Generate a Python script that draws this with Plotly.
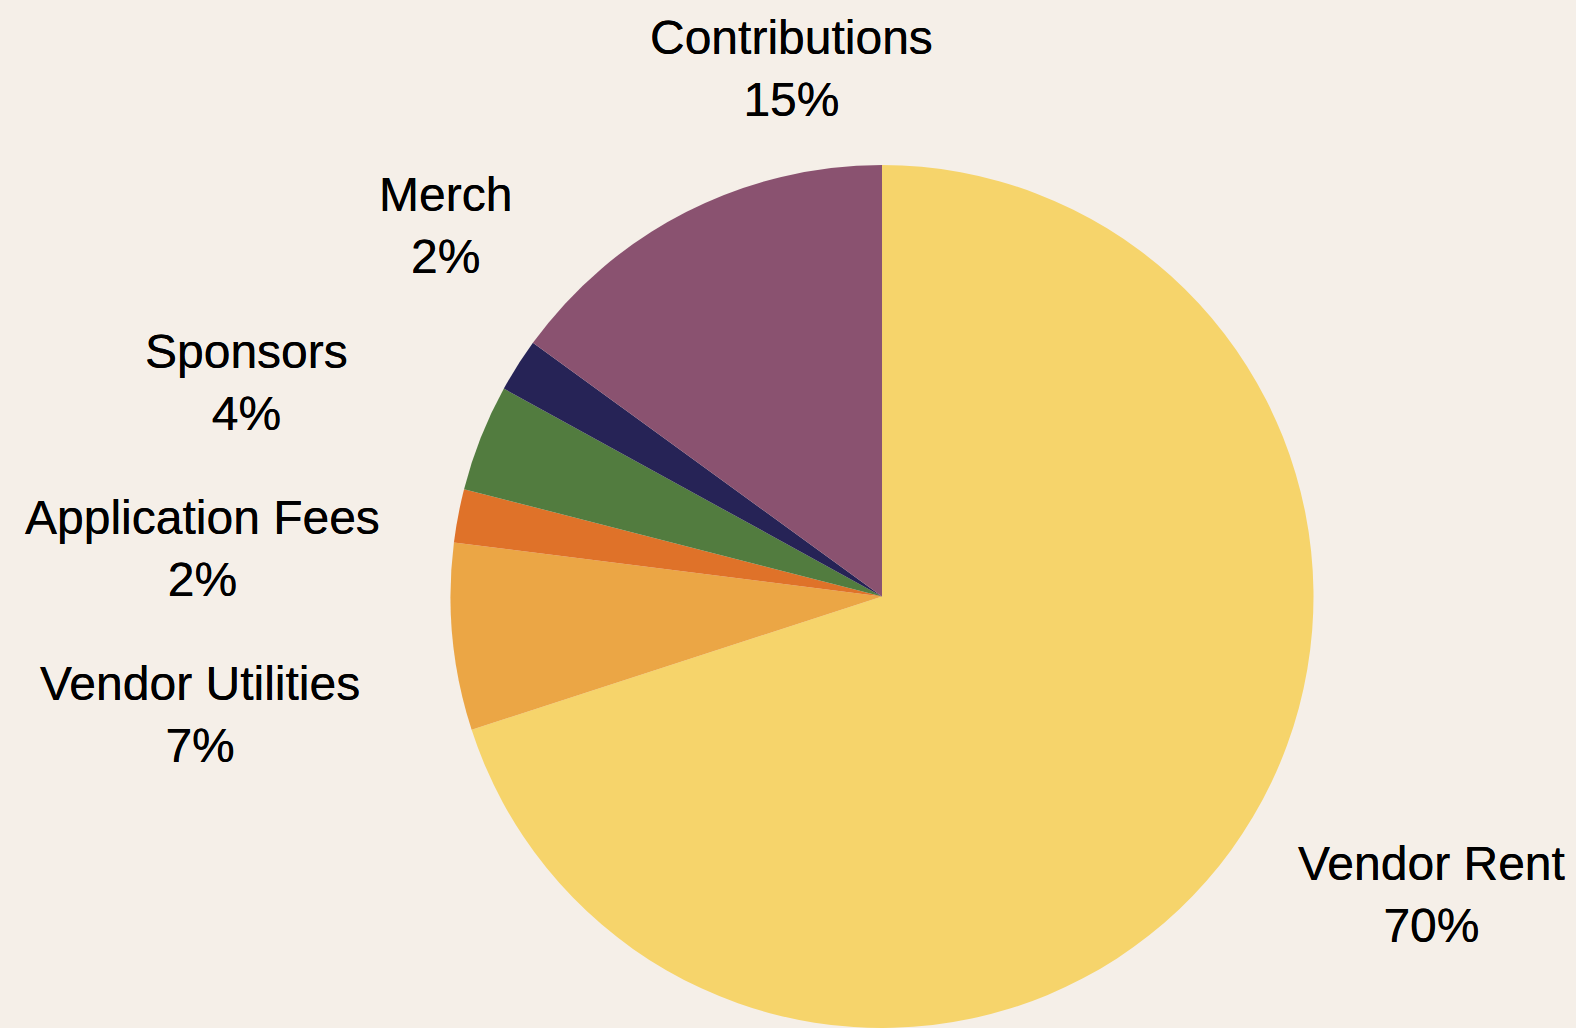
import plotly.graph_objects as go

categories = ["Vendor Rent", "Vendor Utilities", "Application Fees", "Sponsors", "Merch", "Contributions"]
values = [70, 7, 2, 4, 2, 15]
colors = ["#F6D46B", "#EBA645", "#DF7229", "#527C3F", "#262356", "#8A5270"]

# label anchor positions (pixels in a 1576x1028 canvas) - layout only
label_pos = {
    "Vendor Rent": (1431, 894),
    "Vendor Utilities": (200, 714),
    "Application Fees": (202, 548),
    "Sponsors": (246, 382),
    "Merch": (445, 225),
    "Contributions": (792, 69),
}

W, H = 1576, 1028
total = sum(values)

fig = go.Figure(go.Pie(
    labels=categories,
    values=values,
    sort=False,
    direction="clockwise",
    rotation=0,
    marker=dict(colors=colors, line=dict(width=0)),
    textinfo="none",
    hoverinfo="label+percent",
    domain=dict(x=[0.2855, 0.8338], y=[0.0, 0.8395]),
    showlegend=False,
))

annotations = []
for c, v in zip(categories, values):
    px, py = label_pos[c]
    annotations.append(dict(
        x=px / W, y=1 - py / H, xref="paper", yref="paper",
        text=f"{c}<br>{round(100 * v / total)}%",
        showarrow=False, xanchor="center", yanchor="middle", align="center",
        font=dict(family="Liberation Sans, Arial, sans-serif", size=48, color="#000000",
                  shadow="0 0 0.4px #000"),
    ))

fig.update_layout(
    width=W, height=H,
    margin=dict(l=0, r=0, t=0, b=0),
    paper_bgcolor="#F5EFE8",
    plot_bgcolor="#F5EFE8",
    annotations=annotations,
)

fig.write_html("out.html")
